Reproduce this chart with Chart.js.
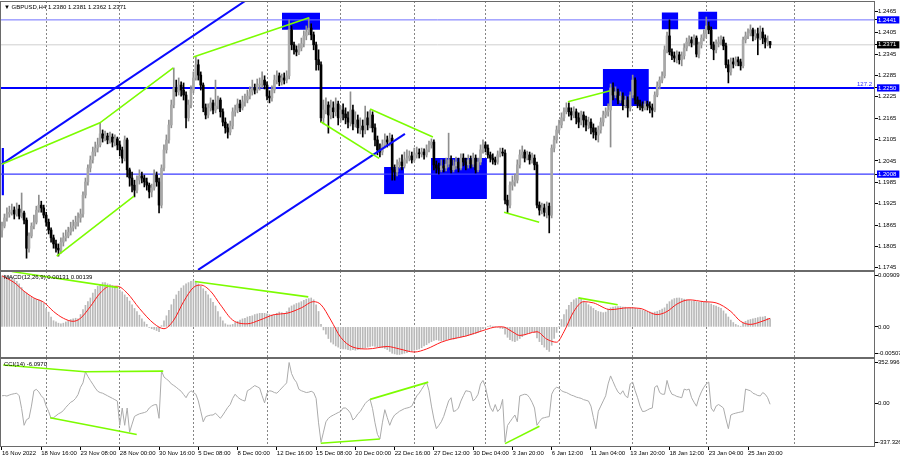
<!DOCTYPE html>
<html>
<head>
<meta charset="utf-8">
<title>GBPUSD H4</title>
<script src="https://cdn.jsdelivr.net/npm/chart.js@4.4.1/dist/chart.umd.min.js"></script>
<style>
  html, body { margin: 0; padding: 0; background: #fff; }
  #wrap { position: relative; width: 900px; height: 460px; overflow: hidden; background: #fff; }
  canvas { position: absolute; left: 0; }
</style>
</head>
<body>
<div id="wrap">
  <canvas id="priceChart" width="900" height="271" style="top:0px"></canvas>
  <canvas id="macdChart" width="900" height="87" style="top:271px"></canvas>
  <canvas id="cciChart" width="900" height="102" style="top:358px"></canvas>
</div>
<script>
// GBPUSD H4, 16 Nov 2022 - 27 Jan 2023

var symbol = 'GBPUSD,H4';
var firstOpen = 1.1851;

var closes = [
  1.1862,1.1885,1.1896,1.1901,1.1907,1.1896,1.1910,1.1890,1.1899,1.1879,
  1.1800,1.1834,1.1862,1.1873,1.1907,1.1921,1.1913,1.1893,1.1873,1.1851,
  1.1829,1.1812,1.1800,1.1795,1.1817,1.1829,1.1834,1.1845,1.1857,1.1862,
  1.1873,1.1885,1.1896,1.1949,1.1986,1.2025,1.2048,1.2070,1.2081,1.2090,
  1.2121,1.2109,1.2115,1.2104,1.2112,1.2098,1.2107,1.2090,1.2076,1.2053,
  1.2104,1.2020,1.1997,1.1977,1.1963,1.1991,1.2003,1.1997,1.1986,1.1977,
  1.1958,1.1969,1.2005,1.1986,1.1921,1.2025,1.2076,1.2104,1.2146,1.2202,
  1.2250,1.2239,1.2258,1.2244,1.2230,1.2166,1.2202,1.2244,1.2278,1.2315,
  1.2286,1.2258,1.2194,1.2174,1.2194,1.2208,1.2188,1.2199,1.2216,1.2183,
  1.2154,1.2138,1.2126,1.2143,1.2183,1.2188,1.2205,1.2194,1.2211,1.2216,
  1.2227,1.2239,1.2250,1.2244,1.2258,1.2261,1.2272,1.2258,1.2227,1.2222,
  1.2244,1.2272,1.2284,1.2267,1.2278,1.2272,1.2284,1.2413,1.2371,1.2357,
  1.2351,1.2362,1.2374,1.2396,1.2407,1.2418,1.2399,1.2371,1.2329,1.2315,
  1.2166,1.2188,1.2202,1.2174,1.2194,1.2183,1.2205,1.2166,1.2188,1.2177,
  1.2166,1.2154,1.2188,1.2149,1.2160,1.2138,1.2143,1.2132,1.2166,1.2146,
  1.2174,1.2138,1.2104,1.2076,1.2070,1.2090,1.2104,1.2098,1.2109,1.2020,
  1.2014,1.2034,1.2042,1.2031,1.2048,1.2053,1.2059,1.2048,1.2062,1.2067,
  1.2065,1.2070,1.2062,1.2076,1.2090,1.2098,1.2034,1.2025,1.2020,1.2031,
  1.2025,1.2036,1.2048,1.2020,1.2031,1.2042,1.2025,1.2053,1.2042,1.2034,
  1.2048,1.2036,1.2053,1.2020,1.2042,1.2076,1.2090,1.2081,1.2062,1.2053,
  1.2048,1.2042,1.2062,1.2070,1.2067,1.1935,1.1921,1.1977,1.1986,1.1991,
  1.2034,1.2062,1.2070,1.2053,1.2062,1.2048,1.2053,1.2034,1.1921,1.1907,
  1.1913,1.1901,1.1918,1.1893,1.2081,1.2104,1.2132,1.2146,1.2166,1.2183,
  1.2194,1.2183,1.2174,1.2183,1.2166,1.2154,1.2174,1.2160,1.2146,1.2154,
  1.2138,1.2126,1.2118,1.2132,1.2154,1.2174,1.2183,1.2188,1.2250,1.2230,
  1.2239,1.2216,1.2227,1.2202,1.2216,1.2194,1.2230,1.2272,1.2216,1.2205,
  1.2199,1.2194,1.2205,1.2199,1.2194,1.2188,1.2230,1.2256,1.2272,1.2284,
  1.2357,1.2396,1.2351,1.2340,1.2334,1.2343,1.2329,1.2340,1.2362,1.2379,
  1.2385,1.2376,1.2390,1.2345,1.2371,1.2390,1.2402,1.2424,1.2413,1.2371,
  1.2357,1.2374,1.2379,1.2385,1.2368,1.2315,1.2295,1.2323,1.2317,1.2329,
  1.2323,1.2312,1.2385,1.2396,1.2404,1.2413,1.2396,1.2402,1.2390,1.2407,
  1.2390,1.2379,1.2380,1.2371
];

var highs = [
  1.1873,1.1896,1.1913,1.1918,1.1924,1.1916,1.1927,1.1921,1.1955,1.1904,
  1.1885,1.1843,1.1871,1.1893,1.1918,1.1949,1.1932,1.1921,1.1901,1.1882,
  1.1857,1.1837,1.1823,1.1812,1.1829,1.1843,1.1851,1.1859,1.1873,1.1879,
  1.1890,1.1899,1.1910,1.1958,1.1997,1.2034,1.2059,1.2084,1.2098,1.2109,
  1.2152,1.2132,1.2129,1.2123,1.2126,1.2121,1.2118,1.2112,1.2101,1.2084,
  1.2115,1.2109,1.2025,1.2014,1.1991,1.2003,1.2020,1.2014,1.2005,1.1997,
  1.1983,1.1980,1.2020,1.2014,1.1997,1.2034,1.2090,1.2118,1.2160,1.2216,
  1.2306,1.2272,1.2278,1.2267,1.2264,1.2239,1.2216,1.2256,1.2295,1.2337,
  1.2329,1.2295,1.2264,1.2205,1.2205,1.2222,1.2216,1.2272,1.2227,1.2222,
  1.2191,1.2166,1.2149,1.2157,1.2194,1.2202,1.2219,1.2216,1.2227,1.2233,
  1.2244,1.2253,1.2272,1.2261,1.2275,1.2278,1.2295,1.2284,1.2267,1.2242,
  1.2256,1.2286,1.2298,1.2292,1.2289,1.2292,1.2298,1.2441,1.2424,1.2379,
  1.2368,1.2374,1.2390,1.2410,1.2424,1.2447,1.2430,1.2407,1.2379,1.2357,
  1.2323,1.2216,1.2222,1.2211,1.2216,1.2211,1.2222,1.2213,1.2199,1.2205,
  1.2194,1.2183,1.2239,1.2202,1.2183,1.2174,1.2166,1.2160,1.2199,1.2183,
  1.2188,1.2183,1.2149,1.2115,1.2093,1.2104,1.2121,1.2115,1.2123,1.2118,
  1.2034,1.2048,1.2053,1.2062,1.2070,1.2076,1.2073,1.2070,1.2081,1.2084,
  1.2079,1.2081,1.2079,1.2090,1.2101,1.2107,1.2104,1.2045,1.2039,1.2048,
  1.2048,1.2053,1.2123,1.2059,1.2048,1.2056,1.2053,1.2065,1.2065,1.2053,
  1.2062,1.2059,1.2067,1.2062,1.2053,1.2090,1.2104,1.2098,1.2090,1.2070,
  1.2065,1.2056,1.2073,1.2081,1.2081,1.2076,1.1949,1.1986,1.2003,1.2008,
  1.2048,1.2076,1.2087,1.2076,1.2073,1.2070,1.2067,1.2062,1.2042,1.1930,
  1.1927,1.1924,1.1930,1.1927,1.2090,1.2115,1.2143,1.2160,1.2180,1.2194,
  1.2208,1.2208,1.2194,1.2197,1.2191,1.2180,1.2185,1.2183,1.2171,1.2168,
  1.2163,1.2149,1.2138,1.2143,1.2166,1.2185,1.2194,1.2205,1.2261,1.2264,
  1.2253,1.2247,1.2239,1.2236,1.2227,1.2225,1.2239,1.2286,1.2278,1.2225,
  1.2216,1.2211,1.2213,1.2213,1.2211,1.2205,1.2239,1.2267,1.2281,1.2295,
  1.2368,1.2407,1.2441,1.2360,1.2351,1.2354,1.2351,1.2351,1.2374,1.2390,
  1.2396,1.2393,1.2399,1.2396,1.2379,1.2399,1.2413,1.2449,1.2435,1.2421,
  1.2379,1.2385,1.2393,1.2396,1.2393,1.2376,1.2329,1.2334,1.2334,1.2337,
  1.2337,1.2331,1.2393,1.2407,1.2416,1.2427,1.2418,1.2413,1.2418,1.2424,
  1.2418,1.2399,1.2396,1.2381
];

var lows = [
  1.1831,1.1857,1.1876,1.1887,1.1893,1.1882,1.1890,1.1882,1.1885,1.1868,
  1.1772,1.1789,1.1829,1.1854,1.1868,1.1901,1.1901,1.1885,1.1862,1.1840,
  1.1817,1.1800,1.1789,1.1778,1.1786,1.1806,1.1820,1.1829,1.1837,1.1848,
  1.1854,1.1862,1.1873,1.1887,1.1941,1.1977,1.2014,1.2039,1.2059,1.2070,
  1.2084,1.2098,1.2101,1.2093,1.2095,1.2084,1.2087,1.2076,1.2059,1.2039,
  1.2045,1.2000,1.1974,1.1958,1.1944,1.1955,1.1980,1.1983,1.1972,1.1963,
  1.1941,1.1944,1.1963,1.1974,1.1899,1.1913,1.2017,1.2067,1.2095,1.2138,
  1.2194,1.2227,1.2230,1.2227,1.2216,1.2138,1.2157,1.2194,1.2236,1.2272,
  1.2272,1.2244,1.2183,1.2163,1.2166,1.2185,1.2177,1.2180,1.2191,1.2168,
  1.2143,1.2123,1.2109,1.2118,1.2135,1.2171,1.2180,1.2183,1.2188,1.2199,
  1.2208,1.2219,1.2230,1.2233,1.2236,1.2244,1.2250,1.2247,1.2216,1.2208,
  1.2213,1.2236,1.2261,1.2256,1.2258,1.2261,1.2264,1.2275,1.2357,1.2345,
  1.2340,1.2343,1.2354,1.2365,1.2385,1.2399,1.2385,1.2357,1.2300,1.2300,
  1.2154,1.2149,1.2177,1.2123,1.2163,1.2166,1.2171,1.2146,1.2154,1.2160,
  1.2149,1.2138,1.2143,1.2132,1.2140,1.2123,1.2121,1.2112,1.2121,1.2132,
  1.2138,1.2126,1.2087,1.2062,1.2056,1.2062,1.2081,1.2084,1.2087,1.1991,
  1.1991,1.2003,1.2025,1.2020,1.2025,1.2039,1.2045,1.2039,1.2042,1.2053,
  1.2053,1.2056,1.2050,1.2056,1.2070,1.2081,1.2020,1.2011,1.2008,1.2014,
  1.2014,1.2017,1.2028,1.2011,1.2014,1.2022,1.2014,1.2020,1.2031,1.2020,
  1.2025,1.2025,1.2028,1.2011,1.2014,1.2034,1.2067,1.2070,1.2053,1.2042,
  1.2036,1.2034,1.2036,1.2056,1.2059,1.1924,1.1899,1.1913,1.1963,1.1974,
  1.1983,1.2025,1.2053,1.2042,1.2048,1.2036,1.2039,1.2020,1.1913,1.1893,
  1.1896,1.1890,1.1885,1.1843,1.1885,1.2070,1.2095,1.2123,1.2138,1.2157,
  1.2177,1.2171,1.2160,1.2166,1.2149,1.2138,1.2146,1.2140,1.2129,1.2135,
  1.2121,1.2109,1.2104,1.2098,1.2123,1.2143,1.2166,1.2171,1.2084,1.2216,
  1.2222,1.2205,1.2208,1.2188,1.2194,1.2168,1.2185,1.2222,1.2205,1.2194,
  1.2188,1.2185,1.2188,1.2188,1.2180,1.2168,1.2183,1.2225,1.2247,1.2264,
  1.2278,1.2348,1.2343,1.2329,1.2323,1.2320,1.2317,1.2312,1.2331,1.2354,
  1.2368,1.2365,1.2371,1.2337,1.2334,1.2362,1.2382,1.2390,1.2402,1.2360,
  1.2329,1.2348,1.2365,1.2371,1.2357,1.2306,1.2264,1.2286,1.2306,1.2312,
  1.2312,1.2300,1.2306,1.2376,1.2388,1.2396,1.2382,1.2385,1.2343,1.2385,
  1.2374,1.2362,1.2368,1.2362
];

// MACD(12,26,9): main line as histogram, signal read at a number of bars
var macdHist = [
  0.0083,0.0084,0.0083,0.0082,0.0080,0.0077,0.0074,0.0070,0.0064,0.0058,
  0.0055,0.0051,0.0048,0.0046,0.0045,0.0044,0.0042,0.0038,0.0030,0.0024,
  0.0016,0.0010,0.0008,0.0006,0.0005,0.0006,0.0008,0.0010,0.0012,0.0013,
  0.0014,0.0013,0.0020,0.0028,0.0035,0.0041,0.0047,0.0055,0.0061,0.0066,
  0.0069,0.0072,0.0072,0.0070,0.0069,0.0067,0.0065,0.0062,0.0060,0.0057,
  0.0052,0.0048,0.0042,0.0036,0.0030,0.0025,0.0019,0.0013,0.0008,0.0004,
  -0.0001,-0.0003,-0.0004,-0.0006,-0.0008,0.0002,0.0010,0.0018,0.0027,0.0036,
  0.0045,0.0052,0.0058,0.0063,0.0067,0.0070,0.0072,0.0074,0.0075,0.0073,
  0.0070,0.0066,0.0062,0.0058,0.0052,0.0046,0.0040,0.0034,0.0025,0.0016,
  0.0010,0.0005,0.0003,0.0003,0.0004,0.0007,0.0009,0.0011,0.0013,0.0014,
  0.0016,0.0017,0.0018,0.0020,0.0021,0.0022,0.0022,0.0022,0.0021,0.0020,
  0.0019,0.0020,0.0022,0.0024,0.0023,0.0021,0.0025,0.0031,0.0034,0.0036,
  0.0038,0.0039,0.0041,0.0043,0.0045,0.0046,0.0047,0.0044,0.0036,0.0025,
  0.0004,-0.0005,-0.0012,-0.0019,-0.0025,-0.0028,-0.0031,-0.0033,-0.0035,-0.0036,
  -0.0036,-0.0037,-0.0038,-0.0037,-0.0038,-0.0037,-0.0036,-0.0035,-0.0034,-0.0033,
  -0.0032,-0.0031,-0.0032,-0.0033,-0.0033,-0.0034,-0.0035,-0.0037,-0.0040,-0.0043,
  -0.0044,-0.0045,-0.0045,-0.0044,-0.0043,-0.0042,-0.0040,-0.0039,-0.0038,-0.0037,
  -0.0036,-0.0034,-0.0031,-0.0029,-0.0026,-0.0024,-0.0022,-0.0021,-0.0022,-0.0023,
  -0.0022,-0.0021,-0.0020,-0.0020,-0.0020,-0.0019,-0.0018,-0.0017,-0.0016,-0.0015,
  -0.0014,-0.0013,-0.0012,-0.0011,-0.0009,-0.0006,-0.0003,-0.0001,0.0001,0.0002,
  0.0001,0.0000,-0.0001,-0.0002,-0.0003,-0.0012,-0.0017,-0.0021,-0.0023,-0.0024,
  -0.0022,-0.0019,-0.0016,-0.0013,-0.0011,-0.0010,-0.0008,-0.0009,-0.0018,-0.0024,
  -0.0029,-0.0033,-0.0037,-0.0040,-0.0030,-0.0019,-0.0009,0.0000,0.0012,0.0020,
  0.0028,0.0035,0.0040,0.0044,0.0046,0.0047,0.0045,0.0042,0.0039,0.0036,
  0.0033,0.0030,0.0027,0.0025,0.0024,0.0023,0.0024,0.0029,0.0031,0.0032,
  0.0033,0.0033,0.0033,0.0032,0.0032,0.0031,0.0031,0.0031,0.0030,0.0029,
  0.0028,0.0027,0.0026,0.0025,0.0024,0.0023,0.0024,0.0025,0.0027,0.0029,
  0.0031,0.0037,0.0041,0.0044,0.0046,0.0047,0.0047,0.0046,0.0045,0.0044,
  0.0043,0.0042,0.0042,0.0041,0.0040,0.0041,0.0040,0.0041,0.0039,0.0037,
  0.0035,0.0034,0.0032,0.0030,0.0026,0.0021,0.0016,0.0011,0.0007,0.0004,
  0.0002,0.0001,0.0006,0.0009,0.0011,0.0012,0.0013,0.0014,0.0015,0.0016,
  0.0016,0.0017,0.0014,0.00131
];
var macdSignalBars = [
  0,5,9,13,17,21,25,29,32,36, 40,44,47,51,56,62,66,70,74,78,
  81,85,89,94,100,105,111,116,122,127, 130,134,138,143,149,157,162,168,173,179,
  183,189,196,202,204,208,211,218,222,226, 229,233,237,241,248,255,260,267,271,275,
  280,286,291,297,301,305,309,313
];
var macdSignal = [
  0.0083,0.0072,0.0058,0.0047,0.0040,0.0025,0.0014,0.0009,0.0014,0.0033,
  0.0055,0.0066,0.0066,0.0055,0.0030,0.0005,-0.0003,0.0011,0.0041,0.0064,
  0.0068,0.0058,0.0036,0.0011,0.0005,0.0011,0.0020,0.0022,0.0031,0.0041,
  0.0036,0.0011,-0.0017,-0.0033,-0.0036,-0.0032,-0.0036,-0.0041,-0.0036,-0.0025,
  -0.0020,-0.0015,-0.0006,0.0000,0.0000,-0.0008,-0.0014,-0.0008,-0.0020,-0.0025,
  -0.0008,0.0025,0.0041,0.0039,0.0028,0.0031,0.0030,0.0020,0.0025,0.0037,
  0.0044,0.0041,0.0039,0.0025,0.0009,0.0004,0.0008,0.00139
];

// CCI(14)
var cci = [
  60,62,58,66,72,76,80,60,-40,-169,
  -125,-115,-20,99,110,90,60,40,-20,-62,
  -115,-110,-95,-80,-70,-55,-30,-10,10,20,
  40,70,126,160,246,210,179,150,120,95,
  85,80,70,60,50,40,30,19,-169,-35,
  -169,-35,-222,-160,-100,-89,-80,-75,-70,-62,
  -35,-20,-10,-8,-115,254,206,190,175,152,
  140,126,110,95,70,45,80,99,85,72,
  20,-60,-142,-102,-95,-90,-89,-75,-95,-115,
  -89,-60,-30,-8,40,72,50,35,25,19,
  99,110,125,139,130,120,60,5,80,99,
  95,85,80,99,120,140,160,318,232,190,
  165,110,99,92,85,88,95,85,40,-150,
  -301,-222,-142,-115,-100,-90,-80,-70,-62,-35,
  -35,-50,-75,-128,-110,-80,-62,-30,0,20,
  32,-40,-150,-240,-275,-150,-48,-110,-169,-120,
  -89,-75,-60,-50,-40,-35,-30,-20,19,59,
  80,110,140,166,100,-20,-120,-195,-170,-142,
  -100,-40,20,45,-62,-55,-35,19,60,99,
  95,90,19,40,72,152,179,130,40,-30,
  -62,-8,-62,-40,32,-301,-170,-142,-115,-89,
  -142,59,66,72,68,45,10,-35,-169,-140,
  -115,-110,-105,-102,72,110,126,120,99,90,
  85,75,65,59,50,45,40,30,25,19,
  -20,-110,-195,-60,-20,20,60,152,214,170,
  126,90,72,99,60,45,152,166,100,45,
  -20,-62,-60,-50,-40,-35,126,139,85,72,
  72,179,110,72,65,55,50,45,112,105,
  112,45,10,-21,45,90,126,152,166,-35,
  -62,-20,-8,-20,-35,-120,-195,-89,-80,-75,
  -70,-66,-62,112,105,99,80,72,62,59,
  85,72,45,-6.097
];

// axes
var barMin = -0.815, barMax = 355.75;
var priceMin = 1.1736, priceMax = 1.2494;
var priceTicks = [1.2465, 1.2405, 1.2345, 1.2285, 1.2225, 1.2165, 1.2105, 1.2045, 1.1985, 1.1925, 1.1865, 1.1805, 1.1745];
var macdTicks = [0.00909, 0, -0.00507];
var macdTickText = ['0.00909', '0.00', '-0.00507'];
var cciTicks = [352.9968, 0, -337.326];
var cciTickText = ['352.9968', '0.00', '-337.326'];
var dateTickBars = [0, 16, 32, 48, 64, 80, 96, 112, 128, 144, 160, 176, 192, 208, 224, 240, 256, 272, 288, 304];
var dateLabels = ['16 Nov 2022', '18 Nov 16:00', '23 Nov 08:00', '28 Nov 00:00', '30 Nov 16:00', '5 Dec 08:00',
  '8 Dec 00:00', '12 Dec 16:00', '15 Dec 08:00', '20 Dec 00:00', '22 Dec 16:00', '27 Dec 12:00', '30 Dec 04:00',
  '3 Jan 20:00', '6 Jan 12:00', '11 Jan 04:00', '13 Jan 20:00', '18 Jan 12:00', '23 Jan 04:00', '25 Jan 20:00'];
var gridBars = [18, 48, 78, 108, 138, 168, 197, 227, 257, 287, 323];

// drawn objects: levels, boxes [bar1, bar2, top, bottom], trend lines and divergence lines [bar, value]
var levels = [1.2441, 1.2250, 1.2008];
var fiboText = '127.2';
var boxes = [
  [-0.2, 0.8, 1.2081, 1.1949],
  [114.1, 129.6, 1.2461, 1.2413],
  [155.7, 163.8, 1.2028, 1.1952],
  [174.8, 197.6, 1.2053, 1.1938],
  [244.8, 263.6, 1.2303, 1.2199],
  [268.8, 275.6, 1.2462, 1.2415],
  [283.7, 291.5, 1.2464, 1.2415]
];
var channelLines = [
  [[-0.1, 1.2036], [99.7, 1.2497]],
  [[79.9, 1.1739], [164.2, 1.2121]]
];
var priceDivLines = [
  [[-0.1, 1.2036], [39.9, 1.2152], [69.8, 1.2306]],
  [[22.3, 1.1778], [53.8, 1.1946]],
  [[78, 1.2337], [125.1, 1.2447]],
  [[129.9, 1.2155], [153.7, 1.2052]],
  [[150, 1.2191], [175.6, 1.2112]],
  [[204.6, 1.1901], [218.9, 1.1873]],
  [[230.6, 1.2211], [247.8, 1.2242]]
];
var macdDivLines = [
  [[4, 0.0090], [47.4, 0.00638]],
  [[78.6, 0.00738], [124.8, 0.00488]],
  [[234.9, 0.00471], [250.9, 0.00360]]
];
var cciDivLines = [
  [[0.5, 299], [33.8, 246], [65.7, 251]],
  [[19.6, -110], [54.9, -241]],
  [[129.9, -308], [154, -275]],
  [[150, 32], [173.7, 166]],
  [[205, -311], [219, -177]]
];

// ---------------------------------------------------------------

var last = closes.length - 1;
var opens = closes.map(function (c, i) { return i === 0 ? firstOpen : closes[i - 1]; });
var isUp = closes.map(function (c, i) { return c >= opens[i]; });

var axisFont = { family: 'Liberation Sans', size: 6 };
var LIME = '#7cfc00';

function fixWidth(w) {
  return function (s) { s.width = w; s.paddingTop = 0; s.paddingBottom = 0; };
}
function fixHeight(h) {
  return function (s) { s.height = h; s.paddingLeft = 0; s.paddingRight = 0; };
}

function xScales(showDates) {
  return {
    x: {
      type: 'linear', axis: 'x', position: 'bottom', min: barMin, max: barMax, offset: false,
      display: showDates,
      afterBuildTicks: function (s) { s.ticks = dateTickBars.map(function (b) { return { value: b }; }); },
      afterFit: fixHeight(showDates ? 13 : 0),
      ticks: {
        autoSkip: false, maxRotation: 0, minRotation: 0, align: 'start', padding: 0,
        color: '#000', font: axisFont,
        callback: function (v, i) { return dateLabels[i]; }
      },
      grid: { offset: false, drawOnChartArea: false, drawTicks: true, tickLength: 3, color: '#000' },
      border: { display: false }
    },
    xg: {
      type: 'linear', axis: 'x', position: 'bottom', min: barMin, max: barMax, offset: false,
      afterBuildTicks: function (s) { s.ticks = gridBars.map(function (b) { return { value: b }; }); },
      afterFit: fixHeight(0),
      ticks: { display: false },
      grid: { offset: false, drawOnChartArea: true, drawTicks: false, color: '#858585', lineWidth: 1 },
      border: { display: false, dash: [2, 2] }
    }
  };
}

function indicatorAxis(min, max, values, texts, areaH) {
  return {
    position: 'right', min: min, max: max,
    afterBuildTicks: function (s) {
      var d = 4.5 * (max - min) / areaH;
      s.ticks = values.map(function (v) {
        return { value: v >= max ? v - d : (v <= min ? v + d : v) };
      });
    },
    afterFit: fixWidth(25),
    ticks: {
      autoSkip: false, padding: 0, color: '#000', font: axisFont,
      callback: function (v, i) { return texts[i]; }
    },
    grid: { drawOnChartArea: false, tickLength: 3, color: '#000' },
    border: { display: false }
  };
}

function lineSet(points, color, width, order) {
  return {
    type: 'line',
    data: points.map(function (p) { return { x: p[0], y: p[1] }; }),
    borderColor: color, borderWidth: width, pointRadius: 0,
    fill: false, tension: 0, order: order
  };
}

// frame + header texts
function panelPlugin(textFn) {
  return {
    id: 'panel',
    afterDraw: function (chart) {
      var ctx = chart.ctx, a = chart.chartArea;
      ctx.save();
      ctx.strokeStyle = '#6a6a6a';
      ctx.lineWidth = 1;
      ctx.strokeRect(a.left + 0.5, a.top + 0.5, a.right - a.left - 1, a.bottom - a.top - 1);
      ctx.font = '6px "Liberation Sans"';
      ctx.textBaseline = 'middle';
      textFn(chart).forEach(function (t) {
        ctx.fillStyle = t.color || '#000';
        ctx.textAlign = t.align || 'left';
        ctx.fillText(t.text, t.x, t.y);
      });
      ctx.restore();
    }
  };
}

var common = {
  responsive: false,
  animation: false,
  events: [],
  plugins: { legend: { display: false }, tooltip: { enabled: false } }
};

// ---- price panel
var priceSets = [];
boxes.forEach(function (b) {
  priceSets.push({
    type: 'line',
    data: [{ x: b[0], y: b[2] }, { x: b[1], y: b[2] }],
    fill: { value: b[3] }, backgroundColor: '#0000ff',
    borderColor: 'rgba(0,0,0,0)', borderWidth: 0, pointRadius: 0, order: 30
  });
});
var levelStyle = [['#7070ff', 1], ['#0000ff', 2], ['#3a3aff', 1.2]];
levels.forEach(function (v, k) {
  priceSets.push(lineSet([[barMin, v], [barMax, v]], levelStyle[k][0], levelStyle[k][1], 25));
});
priceSets.push(lineSet([[barMin, closes[last]], [barMax, closes[last]]], '#cfcfcf', 1, 26));
priceSets.push({
  type: 'bar', grouped: false, order: 6, barThickness: 1,
  data: closes.map(function (c, i) { return { x: i, y: [lows[i], highs[i]] }; }),
  backgroundColor: isUp.map(function (u) { return u ? '#8e8e8e' : '#000'; })
});
priceSets.push({
  type: 'bar', grouped: false, order: 5, barThickness: 2, minBarLength: 1,
  data: closes.map(function (c, i) { return { x: i, y: [Math.min(opens[i], c), Math.max(opens[i], c)] }; }),
  backgroundColor: isUp.map(function (u) { return u ? '#a8a8a8' : '#000'; })
});
channelLines.forEach(function (l) { priceSets.push(lineSet(l, '#0a0aff', 2, 2)); });
priceDivLines.forEach(function (l) { priceSets.push(lineSet(l, LIME, 1.6, 1)); });

var priceScales = xScales(false);
priceScales.y = {
  position: 'right', min: priceMin, max: priceMax,
  afterBuildTicks: function (s) {
    var t = priceTicks.map(function (v) { return { value: v, kind: 'plain' }; });
    levels.forEach(function (v) { t.push({ value: v, kind: 'level' }); });
    t.push({ value: closes[last], kind: 'last' });
    s.ticks = t;
  },
  afterFit: fixWidth(25),
  ticks: {
    autoSkip: false, padding: 0, font: axisFont,
    callback: function (v) { return v.toFixed(4); },
    color: function (c) { return c.tick && c.tick.kind !== 'plain' ? '#fff' : '#000'; },
    showLabelBackdrop: function (c) { return !!(c.tick && c.tick.kind !== 'plain'); },
    backdropColor: function (c) { return c.tick && c.tick.kind === 'last' ? '#000' : '#0000ff'; },
    backdropPadding: { top: 0, bottom: 0, left: 1, right: 3 }
  },
  grid: { drawOnChartArea: false, tickLength: 3, color: '#000' },
  border: { display: false }
};

new Chart(document.getElementById('priceChart'), {
  type: 'bar',
  data: { datasets: priceSets },
  options: Object.assign({}, common, {
    layout: { padding: { top: 1, bottom: 0, left: 0, right: 0 } },
    scales: priceScales
  }),
  plugins: [panelPlugin(function (chart) {
    var ohlc = [opens[last], highs[last], lows[last], closes[last]].map(function (v) { return v.toFixed(4); }).join(' ');
    var a = chart.chartArea;
    return [
      { text: '\u25BC ' + symbol + ' ' + ohlc, x: 4, y: 7 },
      { text: fiboText, x: a.right - 3, y: chart.scales.y.getPixelForValue(levels[1]) - 4, color: '#3232ff', align: 'right' }
    ];
  })]
});

// ---- MACD panel
var macdSets = [{
  type: 'bar', grouped: false, order: 5, barThickness: 1,
  data: macdHist.map(function (v, i) { return { x: i, y: v }; }),
  backgroundColor: '#b9b9b9'
}, {
  type: 'line', order: 2,
  data: macdSignalBars.map(function (b, k) { return { x: b, y: macdSignal[k] }; }),
  borderColor: '#ff1a1a', borderWidth: 1, pointRadius: 0, fill: false,
  cubicInterpolationMode: 'monotone'
}];
macdDivLines.forEach(function (l) { macdSets.push(lineSet(l, LIME, 1.6, 1)); });

var macdScales = xScales(false);
macdScales.y = indicatorAxis(macdTicks[2], macdTicks[0], macdTicks, macdTickText, 87);

new Chart(document.getElementById('macdChart'), {
  type: 'bar',
  data: { datasets: macdSets },
  options: Object.assign({}, common, {
    layout: { padding: 0 },
    scales: macdScales
  }),
  plugins: [panelPlugin(function () {
    return [{ text: 'MACD(12,26,9) ' + macdHist[last].toFixed(5) + ' ' + macdSignal[macdSignal.length - 1].toFixed(5), x: 4, y: 6 }];
  })]
});

// ---- CCI panel
var cciSets = [{
  type: 'line', order: 2,
  data: cci.map(function (v, i) { return { x: i, y: v }; }),
  borderColor: '#ababab', borderWidth: 1, pointRadius: 0, fill: false, tension: 0
}];
cciDivLines.forEach(function (l) { cciSets.push(lineSet(l, LIME, 1.6, 1)); });

var cciScales = xScales(true);
cciScales.y = indicatorAxis(cciTicks[2], cciTicks[0], cciTicks, cciTickText, 89);

new Chart(document.getElementById('cciChart'), {
  type: 'line',
  data: { datasets: cciSets },
  options: Object.assign({}, common, {
    layout: { padding: 0 },
    scales: cciScales
  }),
  plugins: [panelPlugin(function () {
    return [{ text: 'CCI(14) ' + cci[last].toFixed(4), x: 4, y: 6 }];
  })]
});
</script>
</body>
</html>
